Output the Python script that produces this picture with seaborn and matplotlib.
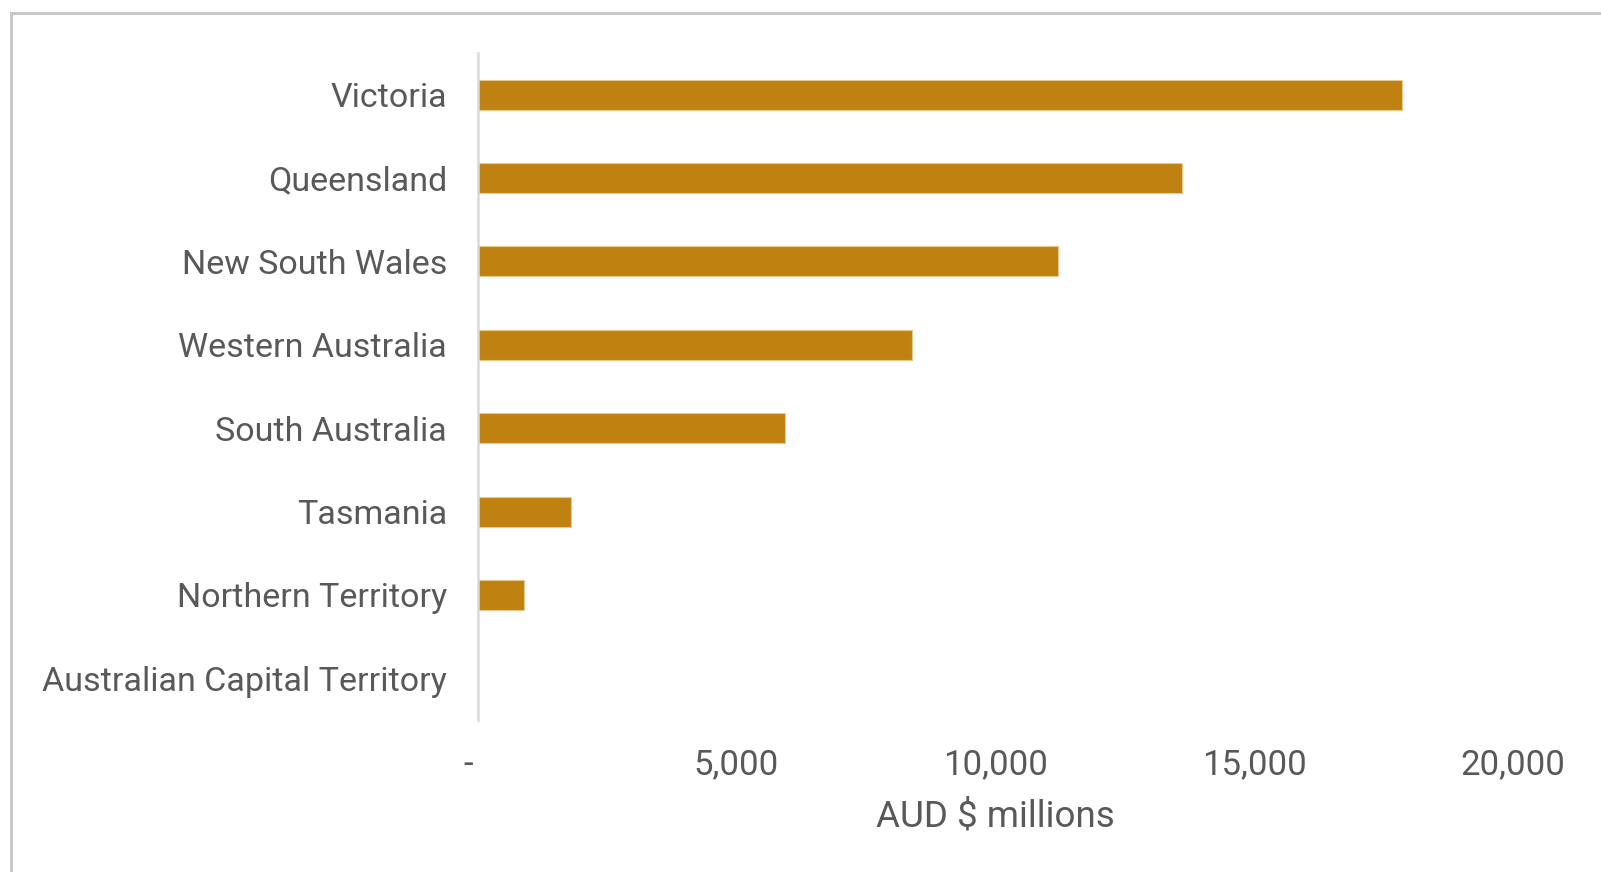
import matplotlib
matplotlib.use("Agg")
import matplotlib.pyplot as plt
from matplotlib.patches import Rectangle
from matplotlib.ticker import FuncFormatter
import seaborn as sns
import pandas as pd

# Spending by state / territory, AUD $ millions
states = [
    "Victoria",
    "Queensland",
    "New South Wales",
    "Western Australia",
    "South Australia",
    "Tasmania",
    "Northern Territory",
    "Australian Capital Territory",
]
values = [17850, 13600, 11210, 8390, 5945, 1810, 905, 0]
x_ticks = [0, 5000, 10000, 15000, 20000]

df = pd.DataFrame({"state": states, "value": values})

sns.set_theme(style="white")
plt.rcParams["font.family"] = ["Roboto", "DejaVu Sans"]

text_color = "#595959"
bar_color = "#BF8211"

W, H = 1601, 872
fig = plt.figure(figsize=(W / 100, H / 100), dpi=100)
fig.patch.set_facecolor("white")

left, right = 477.5 / W, 1513 / W
top, bottom = 1 - 53 / H, 1 - 720 / H
ax = fig.add_axes([left, bottom, right - left, top - bottom])

sns.barplot(data=df, x="value", y="state", order=states, orient="h",
            color=bar_color, saturation=1, width=0.36, ax=ax,
            edgecolor="#E8C88C", linewidth=0.8)

ax.set_xlim(0, 20000)
ax.set_ylim(len(states) - 0.5, -0.5)
ax.set_xticks(x_ticks)


def fmt(v, pos):
    # accounting-style zero: a dash padded on the right
    if v == 0:
        return "-  "
    return f"{int(v):,}"


ax.xaxis.set_major_formatter(FuncFormatter(fmt))
ax.tick_params(axis="x", length=0, pad=20, labelsize=25, labelcolor=text_color)
ax.tick_params(axis="y", length=0, pad=22, labelsize=24.5, labelcolor=text_color)

ax.set_xlabel("AUD $ millions", fontsize=26.5, color=text_color, labelpad=13)
ax.set_ylabel("")

for s in ["top", "right", "bottom"]:
    ax.spines[s].set_visible(False)
ax.spines["left"].set_color("#D9D9D9")
ax.spines["left"].set_linewidth(1.8)
ax.grid(False)

# Outer chart frame
fig.patches.append(Rectangle((11 / W, -0.1), 1.2, 1 - 13 / H + 0.1,
                             transform=fig.transFigure, fill=False,
                             edgecolor="#C8C8C8", linewidth=2.2, zorder=0))

fig.savefig("out.png", dpi=100, facecolor="white")
